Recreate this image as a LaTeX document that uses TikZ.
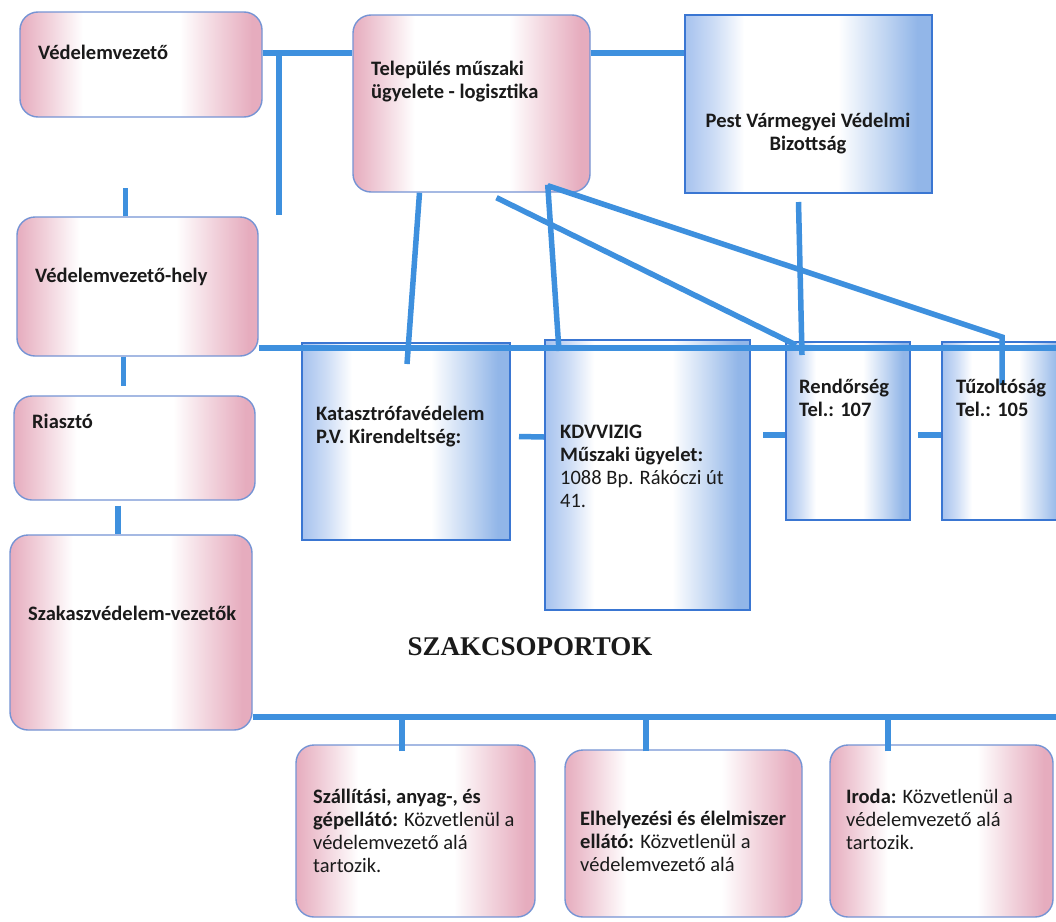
\documentclass[tikz,border=0pt]{standalone}
\usepackage{fontspec}
\setmainfont{Carlito}
\newfontfamily\titlefont{Liberation Serif}
\usepackage{tikz}
\usetikzlibrary{calc}
\definecolor{lnblue}{RGB}{62,144,222}
\definecolor{pkfill}{RGB}{230,172,190}
\definecolor{pkline}{RGB}{118,148,212}
\definecolor{blfillA}{RGB}{166,194,238}
\definecolor{blfillB}{RGB}{146,182,232}
\definecolor{blline}{RGB}{58,118,210}
\definecolor{txcol}{RGB}{26,26,26}
\pgfdeclarehorizontalshading{pkshade}{100bp}{color(0bp)=(pkfill); color(25bp)=(pkfill); color(31bp)=(pkfill!55!white); color(38bp)=(white); color(58bp)=(white); color(66bp)=(pkfill!55!white); color(73bp)=(pkfill); color(100bp)=(pkfill)}
\pgfdeclarehorizontalshading{blshade}{100bp}{color(0bp)=(blfillA); color(25bp)=(blfillA); color(31bp)=(blfillA!55!white); color(37bp)=(white); color(56bp)=(white); color(65bp)=(blfillB!55!white); color(72bp)=(blfillB); color(100bp)=(blfillB)}
\tikzset{pk/.style={draw=pkline, line width=1.4pt, rounded corners=18pt, shade, shading=pkshade, inner sep=0pt}}
\tikzset{bl/.style={draw=blline, line width=2pt, shade, shading=blshade, inner sep=0pt}}
\tikzset{tx/.style={anchor=base west, align=left, inner sep=0pt, text=txcol, font=\fontsize{20.5}{23}\selectfont\bfseries}}
\tikzset{ln/.style={draw=lnblue, line width=5.5pt}}

\begin{document}
\begin{tikzpicture}[x=1pt,y=-1pt]
\useasboundingbox (0,0) rectangle (1056,921);
\clip (0,0) rectangle (1056,921);
\fill[white] (0,0) rectangle (1056,921);

% boxes
\node[pk, minimum width=242, minimum height=105] (vv) at (141,64.5) {};
\node[pk, minimum width=237, minimum height=177] (tel) at (471.5,103.5) {};
\node[bl, minimum width=247, minimum height=178] (pvvb) at (808.5,104) {};
\node[pk, minimum width=241, minimum height=139] (vvh) at (137.5,286.5) {};
\node[pk, minimum width=241, minimum height=104] (ria) at (134.5,448) {};
\node[pk, minimum width=242, minimum height=195] (szv) at (131,632.5) {};
\node[bl, minimum width=208, minimum height=197] (kat) at (406,441.5) {};
\node[bl, minimum width=205, minimum height=270] (kdv) at (647.5,475) {};
\node[bl, minimum width=124, minimum height=178] (rend) at (848,431) {};
\node[bl, minimum width=124, minimum height=178] (tuz) at (1004,431) {};
\node[pk, minimum width=239, minimum height=172] (szal) at (415.5,831) {};
\node[pk, minimum width=237, minimum height=167] (elh) at (683.5,833.5) {};
\node[pk, minimum width=223, minimum height=172] (iro) at (941.5,831) {};

% connectors
\coordinate (j1) at (279,53);
\coordinate (j1e) at (279,215);
\coordinate (bus) at (0,348);
\coordinate (busend) at (1060,348);
\coordinate (bb) at (0,717);
\coordinate (bbend) at (1060,717);
\draw[ln] (vv.east |- j1) -- (tel.west |- j1);
\draw[ln] (tel.east |- j1) -- (pvvb.west |- j1);
\draw[ln] (j1) -- (j1e);
\draw[ln] ($(vvh.north)+(-12,0)$) -- ++(0,-28);
\draw[ln] (vvh.south) ++(-14,0) -- ++(0,29);
\draw[ln] ($(ria.south)+(-16.5,5)$) -- ($(szv.north)+(-13,0)$);
\draw[ln] (vvh.east |- bus) -- (busend);
\draw[ln] ($(tel.south)+(-52,0)$) -- ($(kat.north)+(1,22)$);
\draw[ln] ($(tel.south east)+(-43,-8)$) -- ($(kdv.north west)+(15,12)$);
\draw[ln] ($(tel.south)+(25,5)$) -- ($(rend.north west)+(11,4)$);
\draw[ln] ($(tel.south east)+(-43,-7)$) -- ($(tuz.north west)+(61,-4)$) -- ++(0,48);
\draw[ln] ($(pvvb.south)+(-10,8)$) -- ($(rend.north)+(-46,14)$);
\draw[ln] ($(kat.east)+(8,-5)$) -- ($(kdv.west)+(0,-38)$);
\draw[ln] ($(kdv.east)+(12,-40)$) -- ($(rend.west)+(0,4)$);
\draw[ln] ($(rend.east)+(7,4)$) -- ($(tuz.west)+(0,4)$);
\draw[ln] (szv.east |- bb) -- (bbend);
\draw[ln] ($(szal.north)+(-13.5,7)$) -- ++(0,-35);
\draw[ln] ($(elh.north)+(-37.5,2)$) -- ++(0,-35);
\draw[ln] ($(iro.north)+(-53.5,7)$) -- ++(0,-35);

% texts (multi-line nodes: base is the last line)
\node[tx] (vvt) at (38,59) {Védelemvezető};
\node[tx] (telt) at (371,98) {Település műszaki\\ügyelete - logisztika};
\node[tx, align=center, anchor=base] (pvvbt) at (808,150) {Pest Vármegyei Védelmi\\Bizottság};
\node[tx] (vvht) at (35,282) {Védelemvezető-hely};
\node[tx] (riat) at (32,428) {Riasztó};
\node[tx] (szvt) at (28,620) {Szakaszvédelem-vezetők};
\node[tx] (katt) at (316,443) {Katasztrófavédelem\\P.V. Kirendeltség:};
\node[tx] (kdvt) at (560,507) {KDVVIZIG\\Műszaki ügyelet:\\{\mdseries 1088 Bp. Rákóczi út}\\{\mdseries 41.}};
\node[tx] (rendt) at (799,416) {Rendőrség\\Tel.: 107};
\node[tx] (tuzt) at (956,416) {Tűzoltóság\\Tel.: 105};
\node[anchor=base, inner sep=0pt, text=txcol, font=\titlefont\bfseries\fontsize{27}{30}\selectfont] (szcs) at (530,655) {SZAKCSOPORTOK};
\node[tx] (szalt) at (313,872) {Szállítási, anyag-, és\\gépellátó: {\mdseries Közvetlenül a}\\{\mdseries védelemvezető alá}\\{\mdseries tartozik.}};
\node[tx] (elht) at (580,871) {Elhelyezési és élelmiszer\\ellátó: {\mdseries Közvetlenül a}\\{\mdseries védelemvezető alá}};
\node[tx] (irot) at (846,849) {Iroda: {\mdseries Közvetlenül a}\\{\mdseries védelemvezető alá}\\{\mdseries tartozik.}};
\end{tikzpicture}
\end{document}
